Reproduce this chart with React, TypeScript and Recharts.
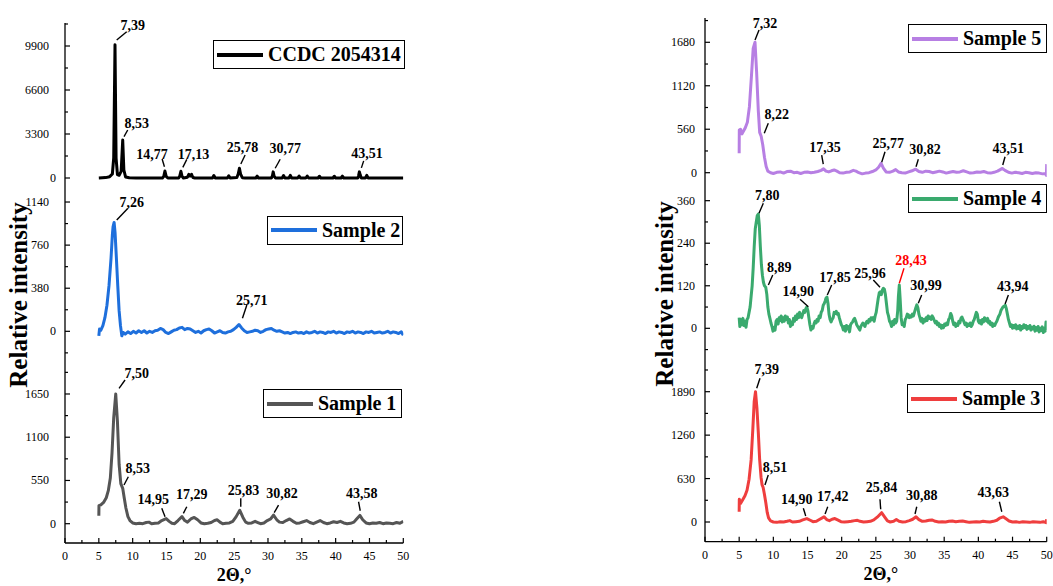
import React from "react";
import { LineChart, Line, XAxis, YAxis, ReferenceDot, Legend } from "recharts";

type Pt = [number, number];

// 2θ (deg) vs intensity, one list per pattern
const ccdc: Pt[] = [
  [5.0, 0], [6.0, 30], [6.6, 100], [7.0, 300], [7.2, 1500], [7.39, 10000], [7.55, 1500], [7.75, 250],
  [8.0, 200], [8.3, 500], [8.53, 2850], [8.7, 600], [8.95, 80], [9.5, 20], [10.5, 0], [12.0, 0],
  [14.4, 0], [14.6, 120], [14.77, 520], [14.95, 120], [15.2, 0], [16.8, 0], [16.95, 120], [17.13, 500],
  [17.3, 120], [17.5, 0], [18.1, 60], [18.3, 280], [18.5, 140], [18.7, 280], [18.9, 40], [19.2, 0],
  [21.8, 0], [22.0, 180], [22.2, 0], [24.0, 0], [24.2, 160], [24.4, 0], [25.4, 40], [25.6, 300],
  [25.78, 730], [25.95, 300], [26.2, 20], [26.6, 0], [28.2, 0], [28.4, 140], [28.6, 0], [30.5, 0],
  [30.65, 150], [30.77, 460], [30.9, 150], [31.1, 0], [32.1, 0], [32.3, 180], [32.5, 0], [33.1, 0],
  [33.3, 200], [33.5, 0], [34.4, 0], [34.6, 150], [34.8, 0], [35.6, 0], [35.8, 150], [36.0, 0],
  [37.4, 0], [37.6, 130], [37.8, 0], [39.6, 0], [39.8, 130], [40.0, 0], [40.8, 0], [41.0, 140],
  [41.2, 0], [43.3, 0], [43.4, 200], [43.51, 460], [43.65, 200], [43.8, 0], [44.4, 0], [44.6, 200],
  [44.8, 0], [50.0, 0],
];

const sample2: Pt[] = [
  [5.0, -40], [5.1, 20], [5.3, 10], [5.6, 50], [5.9, 120], [6.2, 230], [6.5, 400], [6.8, 640],
  [7.0, 850], [7.1, 920], [7.26, 960], [7.4, 870], [7.6, 640], [7.8, 400], [8.0, 180], [8.2, 50],
  [8.4, -40], [8.6, -10], [8.9, -25], [9.3, -5], [9.7, -20], [10.1, 0], [10.5, -15], [10.9, 5],
  [11.3, -10], [11.7, 5], [12.1, -15], [12.5, 0], [12.9, -10], [13.3, 5], [13.7, 10], [14.1, 25],
  [14.5, 15], [14.9, -10], [15.3, -20], [15.7, -5], [16.1, 10], [16.5, 15], [16.9, 30], [17.3, 35],
  [17.7, 15], [18.1, 25], [18.5, 20], [18.9, 5], [19.3, -10], [19.7, 0], [20.1, -15], [20.5, 5],
  [20.9, 15], [21.3, 20], [21.7, 5], [22.1, -15], [22.5, -5], [22.9, 5], [23.3, -10], [23.7, -15],
  [24.1, -5], [24.5, 0], [24.9, 15], [25.3, 35], [25.71, 60], [26.1, 30], [26.5, 5], [26.9, -10],
  [27.3, -5], [27.7, 0], [28.1, 10], [28.5, 5], [28.9, -10], [29.3, 0], [29.7, 15], [30.1, 20],
  [30.5, 25], [30.9, 10], [31.3, 0], [31.7, 5], [32.1, -5], [32.5, -15], [32.9, -10], [33.3, -20],
  [33.7, -10], [34.1, -5], [34.5, -15], [34.9, -10], [35.3, -20], [35.7, -5], [36.1, -15], [36.5, -10],
  [36.9, 0], [37.3, -15], [37.7, -5], [38.1, -10], [38.5, -20], [38.9, -5], [39.3, -10], [39.7, 0],
  [40.1, -15], [40.5, -5], [40.9, -10], [41.3, -20], [41.7, -5], [42.1, -10], [42.5, 0], [42.9, -15],
  [43.3, -5], [43.7, -10], [44.1, -20], [44.5, -5], [44.9, -10], [45.3, 0], [45.7, -15], [46.1, -10],
  [46.5, -5], [46.9, -15], [47.3, -10], [47.7, 0], [48.1, -15], [48.5, -5], [48.9, -10], [49.3, -20],
  [49.7, -5], [50.0, -35],
];

const sample1: Pt[] = [
  [5.0, 100], [5.02, 230], [5.3, 240], [5.7, 270], [6.1, 330], [6.4, 420], [6.7, 580], [6.95, 900],
  [7.2, 1350], [7.5, 1650], [7.75, 1300], [8.0, 750], [8.25, 510], [8.53, 450], [8.75, 330], [9.0, 200],
  [9.3, 90], [9.6, 40], [10.0, 10], [10.5, 0], [11.0, 5], [11.5, 0], [12.0, 15], [12.4, 20],
  [12.8, 0], [13.3, 5], [13.8, 10], [14.3, 40], [14.95, 65], [15.4, 30], [15.8, 5], [16.2, 0],
  [16.7, 40], [17.29, 90], [17.7, 40], [18.1, 20], [18.6, 60], [19.1, 80], [19.6, 50], [20.1, 10],
  [20.6, 0], [21.1, 5], [21.6, 15], [22.1, 40], [22.5, 50], [22.9, 20], [23.3, 0], [23.8, 5],
  [24.3, 10], [24.8, 30], [25.3, 90], [25.83, 170], [26.3, 80], [26.7, 20], [27.1, 5], [27.6, 10],
  [28.1, 30], [28.5, 15], [28.9, 0], [29.4, 10], [29.9, 40], [30.4, 60], [30.82, 110], [31.3, 50],
  [31.7, 20], [32.2, 15], [32.7, 40], [33.2, 60], [33.7, 30], [34.2, 5], [34.7, 10], [35.2, 25],
  [35.7, 40], [36.2, 15], [36.7, 0], [37.2, 20], [37.7, 40], [38.2, 15], [38.7, 0], [39.2, 10],
  [39.7, 25], [40.2, 15], [40.7, 30], [41.2, 10], [41.7, 0], [42.2, 5], [42.7, 20], [43.1, 60],
  [43.58, 105], [44.0, 50], [44.5, 10], [45.0, 0], [45.5, 10], [46.0, 5], [46.5, 15], [47.0, 0],
  [47.5, 10], [48.0, 5], [48.5, 0], [49.0, 15], [49.5, 5], [50.0, 30],
];

const sample5: Pt[] = [
  [5.0, 250], [5.02, 550], [5.2, 560], [5.4, 500], [5.6, 530], [5.9, 580], [6.2, 650], [6.5, 850],
  [6.8, 1250], [7.05, 1600], [7.32, 1680], [7.55, 1300], [7.8, 800], [8.0, 520], [8.22, 470], [8.45, 360],
  [8.7, 200], [8.95, 80], [9.2, 20], [9.6, 0], [10.0, -10], [10.5, 5], [11.0, 10], [11.5, -5],
  [12.0, 15], [12.5, 20], [13.0, 0], [13.5, 5], [14.0, -10], [14.5, 5], [15.0, 10], [15.5, 0],
  [16.0, 5], [16.5, 15], [17.0, 30], [17.35, 50], [17.7, 20], [18.1, 10], [18.5, 25], [18.9, 35],
  [19.3, 20], [19.7, 0], [20.2, -5], [20.7, 5], [21.2, 10], [21.7, 30], [22.1, 20], [22.5, 0],
  [23.0, -15], [23.5, -5], [24.0, 0], [24.5, 15], [25.0, 35], [25.4, 70], [25.77, 120], [26.1, 60],
  [26.5, 10], [27.0, 5], [27.5, 20], [27.9, 40], [28.3, 10], [28.8, 0], [29.3, -5], [29.8, 10],
  [30.3, 25], [30.82, 45], [31.3, 15], [31.8, 5], [32.3, 20], [32.8, 15], [33.3, 0], [33.8, 10],
  [34.3, 20], [34.8, 10], [35.3, -5], [35.8, 5], [36.3, 15], [36.8, 5], [37.3, 10], [37.8, 25],
  [38.3, 10], [38.8, -5], [39.3, 0], [39.8, 10], [40.3, 5], [40.8, 15], [41.3, 0], [41.8, -5],
  [42.3, 5], [42.8, 20], [43.2, 40], [43.51, 55], [43.9, 30], [44.4, 5], [44.9, -5], [45.4, 5],
  [45.9, 0], [46.4, -10], [46.9, 5], [47.4, 0], [47.9, -10], [48.4, 0], [48.9, -5], [49.4, -15],
  [49.8, -10], [49.95, -35], [50.0, 110],
];

const sample4: Pt[] = [
  [5.0, 30], [5.1, 5], [5.25, 25], [5.4, 10], [5.55, 28], [5.7, 8], [5.85, 20], [6.0, 3],
  [6.15, 25], [6.3, 30], [6.45, 45], [6.6, 60], [6.75, 90], [6.9, 120], [7.05, 170], [7.2, 230],
  [7.35, 280], [7.5, 300], [7.65, 318], [7.8, 322], [7.95, 290], [8.1, 230], [8.25, 180], [8.4, 150],
  [8.55, 130], [8.7, 120], [8.89, 116], [9.05, 95], [9.2, 60], [9.35, 40], [9.5, 28], [9.65, 15],
  [9.8, 5], [9.95, -8], [10.1, 2], [10.25, -5], [10.4, 20], [10.55, 25], [10.7, 12], [10.85, 30],
  [11.0, 22], [11.15, 35], [11.3, 18], [11.45, 30], [11.6, 20], [11.75, 35], [11.9, 25], [12.05, 32],
  [12.2, 15], [12.35, 25], [12.5, 5], [12.65, 18], [12.8, 10], [12.95, 28], [13.1, 20], [13.25, 35],
  [13.4, 25], [13.55, 40], [13.7, 30], [13.85, 45], [14.0, 35], [14.15, 30], [14.3, 40], [14.45, 50],
  [14.6, 45], [14.75, 55], [14.9, 60], [15.05, 50], [15.2, 30], [15.35, 10], [15.5, -5], [15.65, 5],
  [15.8, 0], [15.95, 12], [16.1, 20], [16.25, 15], [16.4, 25], [16.55, 20], [16.7, 35], [16.85, 30],
  [17.0, 45], [17.15, 50], [17.3, 65], [17.45, 70], [17.6, 78], [17.7, 85], [17.85, 88], [18.0, 70],
  [18.15, 40], [18.3, 25], [18.45, 18], [18.6, 25], [18.75, 30], [18.9, 45], [19.05, 42], [19.2, 48],
  [19.35, 40], [19.5, 42], [19.65, 30], [19.8, 20], [19.95, 10], [20.1, 5], [20.25, -5], [20.4, 5],
  [20.55, -8], [20.7, 8], [20.85, -2], [21.0, 5], [21.15, -10], [21.3, 10], [21.45, 15], [21.6, 18],
  [21.75, 25], [21.9, 28], [22.05, 20], [22.2, 10], [22.35, 5], [22.5, 0], [22.65, -5], [22.8, 5],
  [22.95, 10], [23.1, 15], [23.25, 10], [23.4, 5], [23.55, 15], [23.7, 20], [23.85, 15], [24.0, 25],
  [24.15, 20], [24.3, 30], [24.45, 25], [24.6, 30], [24.75, 20], [24.9, 35], [25.05, 45], [25.2, 65],
  [25.35, 85], [25.5, 100], [25.65, 103], [25.8, 95], [25.96, 108], [26.1, 113], [26.25, 110], [26.4, 95],
  [26.55, 70], [26.7, 45], [26.85, 35], [27.0, 20], [27.15, 15], [27.3, 5], [27.45, 20], [27.6, 10],
  [27.75, 25], [27.9, 15], [28.05, 20], [28.2, 50], [28.3, 90], [28.43, 122], [28.55, 85], [28.7, 30],
  [28.85, 10], [29.0, 15], [29.15, 5], [29.3, 25], [29.45, 30], [29.6, 40], [29.75, 38], [29.9, 30],
  [30.05, 35], [30.2, 32], [30.35, 40], [30.5, 35], [30.65, 45], [30.8, 55], [30.99, 66], [31.15, 58],
  [31.3, 40], [31.45, 30], [31.6, 20], [31.75, 28], [31.9, 15], [32.05, 25], [32.2, 20], [32.35, 30],
  [32.5, 22], [32.65, 35], [32.8, 28], [32.95, 32], [33.1, 25], [33.25, 35], [33.4, 30], [33.55, 22],
  [33.7, 15], [33.85, 20], [34.0, 10], [34.15, 15], [34.3, 5], [34.45, 10], [34.6, 0], [34.75, 8],
  [34.9, 2], [35.05, 12], [35.2, 8], [35.35, 15], [35.5, 10], [35.65, 25], [35.8, 30], [35.95, 42],
  [36.1, 35], [36.25, 20], [36.4, 10], [36.55, 15], [36.7, 5], [36.85, 12], [37.0, 8], [37.15, 20],
  [37.3, 15], [37.45, 28], [37.6, 32], [37.75, 25], [37.9, 18], [38.05, 10], [38.2, 15], [38.35, 5],
  [38.5, 12], [38.65, 8], [38.8, 15], [38.95, 5], [39.1, 10], [39.25, 20], [39.4, 25], [39.55, 35],
  [39.7, 45], [39.85, 40], [40.0, 20], [40.15, 15], [40.3, 22], [40.45, 12], [40.6, 25], [40.75, 18],
  [40.9, 30], [41.05, 25], [41.2, 20], [41.35, 28], [41.5, 15], [41.65, 20], [41.8, 10], [41.95, 15],
  [42.1, 5], [42.25, 12], [42.4, 8], [42.55, 15], [42.7, 20], [42.85, 28], [43.0, 35], [43.15, 40],
  [43.3, 50], [43.45, 55], [43.6, 60], [43.75, 62], [43.94, 65], [44.1, 55], [44.25, 40], [44.4, 25],
  [44.55, 15], [44.7, 5], [44.85, 10], [45.0, 0], [45.15, 8], [45.3, 2], [45.45, 10], [45.6, -2],
  [45.75, 6], [45.9, 0], [46.05, 8], [46.2, -5], [46.35, 5], [46.5, 0], [46.65, 10], [46.8, 2],
  [46.95, 8], [47.1, -3], [47.25, 5], [47.4, 0], [47.55, 8], [47.7, -5], [47.85, 3], [48.0, -2],
  [48.15, 6], [48.3, -8], [48.45, 2], [48.6, -5], [48.75, 5], [48.9, -10], [49.05, 0], [49.2, -6],
  [49.35, 4], [49.5, -12], [49.65, 0], [49.8, -8], [49.9, 18], [50.0, -5],
];

const sample3: Pt[] = [
  [5.0, 150], [5.02, 330], [5.2, 270], [5.5, 320], [5.85, 380], [6.15, 460], [6.45, 620], [6.75, 900],
  [7.0, 1350], [7.2, 1750], [7.39, 1890], [7.6, 1650], [7.8, 1300], [8.0, 900], [8.2, 650], [8.35, 540],
  [8.51, 500], [8.7, 400], [8.9, 280], [9.1, 140], [9.3, 60], [9.6, 15], [10.0, 0], [10.5, -5],
  [11.0, 5], [11.5, 0], [12.0, 10], [12.4, 20], [12.8, 0], [13.3, 5], [13.8, 10], [14.3, 30],
  [14.9, 50], [15.4, 25], [15.8, 5], [16.3, 10], [16.8, 40], [17.42, 75], [17.8, 35], [18.2, 20],
  [18.6, 40], [19.0, 50], [19.4, 30], [19.9, 5], [20.4, 0], [20.9, 5], [21.4, 10], [21.9, 20],
  [22.3, 25], [22.7, 10], [23.2, 0], [23.7, 5], [24.2, 10], [24.7, 30], [25.2, 70], [25.84, 135],
  [26.3, 70], [26.7, 15], [27.1, 0], [27.6, 10], [28.0, 35], [28.4, 10], [28.9, 0], [29.4, 5],
  [29.9, 20], [30.4, 40], [30.88, 75], [31.3, 35], [31.8, 10], [32.3, 15], [32.8, 25], [33.2, 30],
  [33.7, 10], [34.2, 0], [34.7, 5], [35.2, 0], [35.7, 10], [36.2, 15], [36.7, 5], [37.2, 10],
  [37.7, 15], [38.2, 5], [38.7, -5], [39.2, 0], [39.7, 5], [40.2, 0], [40.7, 10], [41.2, 5],
  [41.7, 0], [42.2, 10], [42.7, 25], [43.1, 55], [43.63, 75], [44.0, 50], [44.5, 15], [45.0, 0],
  [45.5, 5], [46.0, -5], [46.5, 5], [47.0, 0], [47.5, -5], [48.0, 5], [48.5, 0], [49.0, -5],
  [49.5, 5], [49.9, -10], [50.0, 40],
];

// labelled reflections (2θ)
const ccdcPeaks = [7.39, 8.53, 14.77, 17.13, 25.78, 30.77, 43.51];
const sample2Peaks = [7.26, 25.71];
const sample1Peaks = [7.5, 8.53, 14.95, 17.29, 25.83, 30.82, 43.58];
const sample5Peaks = [7.32, 8.22, 17.35, 25.77, 30.82, 43.51];
const sample4Peaks = [7.8, 8.89, 14.9, 17.85, 25.96, 28.43, 30.99, 43.94];
const sample3Peaks = [7.39, 8.51, 14.9, 17.42, 25.84, 30.88, 43.63];

// major tick labels
const xTicks = [0, 5, 10, 15, 20, 25, 30, 35, 40, 45, 50];
const ccdcTicks = [0, 3300, 6600, 9900];
const sample2Ticks = [0, 380, 760, 1140];
const sample1Ticks = [0, 550, 1100, 1650];
const sample5Ticks = [0, 560, 1120, 1680];
const sample4Ticks = [0, 120, 240, 360];
const sample3Ticks = [0, 630, 1260, 1890];

// callout geometry per peak: leader x1,y1,x2,y2 and text centre, px from the peak
const ccdcCallouts = [
  [1.7, -4.7, 11.7, -13, 17.7, -19.7], [1.3, -3.3, 5, -10, 14, -17], [-0.5, -4.3, -2.8, -12, -13, -17],
  [1.9, -4, 5.9, -12, 12.5, -17.3], [1.4, -4.3, 5.7, -13.3, 3, -21.6], [2, -3.6, 7, -12.6, 12, -23.6],
  [2, -4, 4.3, -11, 7.6, -19],
];
const sample2Callouts = [[2.6, -2.4, 13.6, -14, 17.6, -20.7], [3.5, -6.2, 7.9, -19.5, 12.9, -24.5]];
const sample1Callouts = [
  [3.3, -5.7, 9.3, -14, 21, -20.7], [1.3, -3.3, 5.6, -11.6, 15, -20], [-1.1, -1.9, -4.4, -10.3, -12.8, -19.3],
  [1.4, -3.3, 4.8, -9.9, 9.8, -22.6], [1, -3.6, 1, -12, 3.7, -20.3], [0.7, -2.4, 5, -10, 8.4, -21.8],
  [0.4, -4.7, -1.3, -13.7, 2, -22],
];
const sample5Callouts = [
  [0, -2.3, 4, -12.3, 10, -19.6], [3.1, -2.9, 7.1, -12.9, 15.5, -22.2], [-0.3, -4.8, -1.9, -13.8, 1.4, -22.1],
  [0.6, -1.1, 3.9, -11.7, 7.2, -20.1], [0.4, -2.5, 2.7, -9.9, 9.4, -19.9], [0.4, -3.4, 2.7, -11.7, 6, -20.1],
];
const sample4Callouts = [
  [0.7, -0.9, 5, -10.9, 9, -19.2], [2.6, -2.2, 7, -12.2, 13.6, -19.9], [1.5, -0.3, -6.8, -7.7, -8.5, -16.3],
  [0.3, -2.1, 4.7, -12.1, 8, -19.8], [-2.4, -2.7, -9.1, -10, -12.4, -17.3], [0, -1.8, 4.7, -16.8, 11.7, -25.1],
  [1.5, -1.6, 4.9, -9.9, 9.2, -19.9], [-0.2, -1.3, 3.1, -10.3, 7.5, -19.3],
];
const sample3Callouts = [
  [1.2, -3.4, 4.5, -13.4, 11.2, -22.4], [1.8, -2.5, 5.1, -12.5, 11.8, -20.8], [-1.1, -2.6, -3.5, -10.3, -10.1, -19.3],
  [1, -2.8, 3.7, -10.1, 8.7, -20.8], [-0.9, -3.4, -1.6, -13.4, 0, -25.4], [-1, -2.8, 0.7, -10.1, 5.7, -21.8],
  [-1.4, -5.1, -3.8, -15.1, -9.8, -25.1],
];

const FONT = '"Liberation Serif", "Times New Roman", serif';
const serif = { fontFamily: FONT };

const fmt = (a: number) => a.toFixed(2).replace(".", ",");
const valueAt = (s: Pt[], a: number) => (s.find((p) => p[0] === a) as Pt)[1];

interface PanelProps {
  name: string;
  color: string;
  series: Pt[];
  peaks: number[];
  callouts: number[][];
  redPeak?: number;
  ticks: number[];
  domain: [number, number];
  left: number;
  top: number;
  width: number;
  height: number;
  marginTop: number;
  marginRight: number;
  labelGap: number;
  zeroGap: number;
  legend: { x: number; y: number; w: number };
  xAxisHeight?: number;
  titleDx?: number;
  titleBase?: number;
}

const Panel = (p: PanelProps) => {
  const rows = p.series.map(([x, y]) => ({ x, y }));
  const step = p.ticks[1] - p.ticks[0];
  const minor = p.ticks
    .flatMap((t) => [t - step / 2, t + step / 2])
    .filter((v, i, arr) => arr.indexOf(v) === i && v >= p.domain[0] && v <= p.domain[1]);
  const yTicks = [...p.ticks, ...minor].sort((a, b) => a - b);
  const xAll = xTicks.flatMap((t) => (t < 50 ? [t, t + 2.5] : [t]));

  const yTick = (t: any) => {
    const v = t.payload.value;
    const major = p.ticks.includes(v);
    return (
      <g>
        <line x1={t.x} x2={t.x + (major ? 5 : 3)} y1={t.y} y2={t.y} stroke="#000" strokeWidth={1.2} />
        {major && (
          <text x={t.x - (v === 0 ? p.zeroGap : p.labelGap)} y={t.y} dy={4} textAnchor="end"
            fontSize={12} style={serif} fill="#000">{v}</text>
        )}
      </g>
    );
  };

  const xTick = (t: any) => {
    const v = t.payload.value;
    const major = v % 5 === 0;
    return (
      <g>
        <line x1={t.x} x2={t.x} y1={t.y} y2={t.y - (major ? 5 : 3)} stroke="#000" strokeWidth={1.2} />
        {major && (
          <text x={t.x} y={t.y + 17} textAnchor="middle" fontSize={12} style={serif} fill="#000">{v}</text>
        )}
      </g>
    );
  };

  const legendBox = (lp: any) => {
    const item = (lp.payload || [])[0];
    if (!item) return null;
    return (
      <div style={{
        boxSizing: "border-box", width: p.legend.w, height: 29, border: "1.5px solid #000",
        background: "#fff", display: "flex", alignItems: "center", paddingLeft: 3,
      }}>
        <span style={{ width: 46, height: 4, background: item.color, display: "inline-block" }} />
        <span style={{ marginLeft: 5, fontFamily: FONT, fontWeight: "bold", fontSize: 20, color: "#000", whiteSpace: "nowrap" }}>
          {item.value}
        </span>
      </div>
    );
  };

  const callout = (a: number, c: number[]) => (sp: any) => {
    const { cx, cy } = sp;
    if (cx == null || cy == null) return <g />;
    const col = a === p.redPeak ? "#ff0000" : "#000";
    return (
      <g>
        <line x1={cx + c[0]} y1={cy + c[1]} x2={cx + c[2]} y2={cy + c[3]} stroke={col} strokeWidth={1.4} />
        <text x={cx + c[4]} y={cy + c[5]} dy={5} textAnchor="middle" fontSize={14} fontWeight="bold"
          style={serif} fill={col}>{fmt(a)}</text>
      </g>
    );
  };

  const showX = p.xAxisHeight != null;

  return (
    <div style={{ position: "absolute", left: p.left, top: p.top }}>
      <LineChart width={p.width} height={p.height} data={rows}
        margin={{ top: p.marginTop, right: p.marginRight, bottom: 0, left: 20 }}>
        <XAxis type="number" dataKey="x" domain={[0, 50]} ticks={xAll} interval={0} allowDataOverflow
          hide={!showX} height={p.xAxisHeight} tickSize={0} tickMargin={0} tickLine={false} tick={xTick}
          axisLine={{ stroke: "#000", strokeWidth: 1.3 }}
          label={showX ? {
            content: (lp: any) => {
              const vb = lp.viewBox;
              return (
                <text x={vb.x + vb.width / 2 + (p.titleDx || 0)} y={vb.y + (p.titleBase || 38)} textAnchor="middle"
                  fontSize={18} fontWeight="bold" style={serif} fill="#000">2Θ,°</text>
              );
            },
          } : undefined} />
        <YAxis type="number" domain={p.domain} ticks={yTicks} interval={0} allowDataOverflow width={45}
          tickSize={0} tickMargin={0} tickLine={false} tick={yTick}
          axisLine={{ stroke: "#000", strokeWidth: 1.3 }} />
        <Legend verticalAlign="middle" align="center" layout="horizontal" content={legendBox}
          wrapperStyle={{ left: p.legend.x, top: p.legend.y, width: p.legend.w, height: 29 }} />
        <Line type="linear" dataKey="y" name={p.name} stroke={p.color} strokeWidth={3} dot={false}
          strokeLinejoin="round" activeDot={false} isAnimationActive={false} />
        {p.peaks.map((a, i) => (
          <ReferenceDot key={a} x={a} y={valueAt(p.series, a)} r={0} ifOverflow="visible"
            shape={callout(a, p.callouts[i])} />
        ))}
      </LineChart>
    </div>
  );
};

const yTitle = (x: number, y: number) => (
  <div style={{
    position: "absolute", left: x, top: y, transform: "translate(-50%, -50%) rotate(-90deg)",
    whiteSpace: "nowrap", fontFamily: FONT, fontWeight: "bold", fontSize: 25, color: "#000",
  }}>Relative intensity</div>
);

const App = () => {
  const L = { left: 0, width: 420, marginRight: 16.7, labelGap: 16, zeroGap: 9 };
  const R = { left: 640, width: 413, marginRight: 6.3, labelGap: 10, zeroGap: 8 };
  return (
    <div style={{ position: "absolute", left: 0, top: 0, width: 1053, height: 586, background: "#fff", overflow: "hidden" }}>
      <Panel {...L} name="CCDC 2054314" color="#000000" series={ccdc} peaks={ccdcPeaks} callouts={ccdcCallouts}
        ticks={ccdcTicks} domain={[-900, 11625]} top={0} height={190} marginTop={23}
        legend={{ x: 213, y: 40, w: 192 }} />
      <Panel {...L} name="Sample 2" color="#1e6fdc" series={sample2} peaks={sample2Peaks} callouts={sample2Callouts}
        ticks={sample2Ticks} domain={[-297, 1246]} top={190} height={175} marginTop={0}
        legend={{ x: 267, y: 25.7, w: 136 }} />
      <Panel {...L} name="Sample 1" color="#555555" series={sample1} peaks={sample1Peaks} callouts={sample1Callouts}
        ticks={sample1Ticks} domain={[-245.5, 2018.7]} top={365} height={221} marginTop={0}
        legend={{ x: 263, y: 24, w: 139 }} xAxisHeight={43} titleBase={38} />

      <Panel {...R} name="Sample 5" color="#b77fe3" series={sample5} peaks={sample5Peaks} callouts={sample5Callouts}
        ticks={sample5Ticks} domain={[-119.8, 1993]} top={0} height={182} marginTop={18}
        legend={{ x: 268, y: 24, w: 139 }} />
      <Panel {...R} name="Sample 4" color="#3aaa6e" series={sample4} peaks={sample4Peaks} callouts={sample4Callouts}
        redPeak={28.43} ticks={sample4Ticks} domain={[-78.1, 412.7]} top={182} height={174} marginTop={0}
        legend={{ x: 268, y: 2, w: 139 }} />
      <Panel {...R} name="Sample 3" color="#ef3e3e" series={sample3} peaks={sample3Peaks} callouts={sample3Callouts}
        ticks={sample3Ticks} domain={[-285.7, 2407.8]} top={356} height={230} marginTop={0}
        legend={{ x: 267, y: 28, w: 138 }} xAxisHeight={44.3} titleDx={5} titleBase={38} />

      {yTitle(19, 295)}
      {yTitle(665, 294)}
    </div>
  );
};

export default App;
